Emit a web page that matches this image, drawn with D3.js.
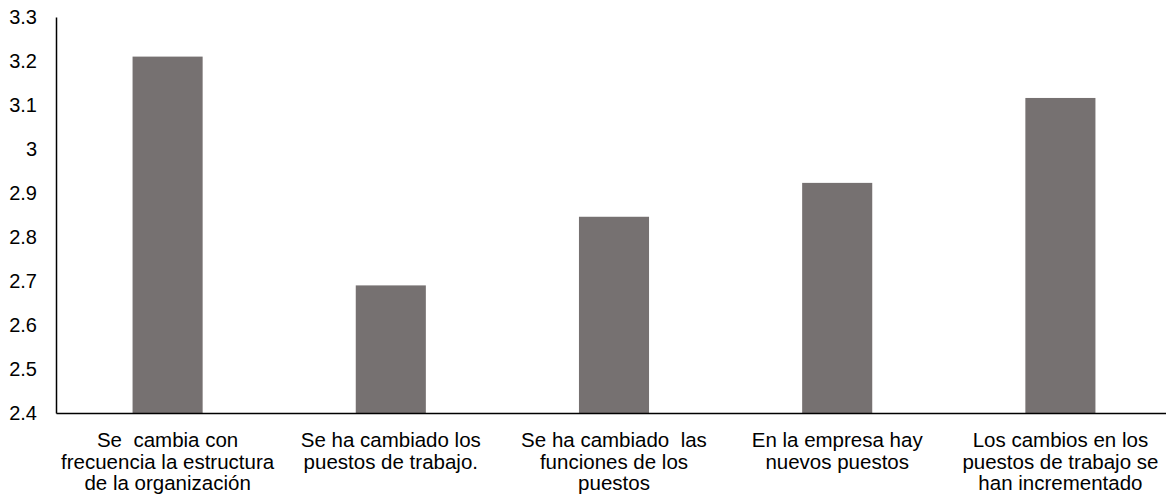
<!DOCTYPE html>
<html>
<head>
<meta charset="utf-8">
<script src="https://cdn.jsdelivr.net/npm/d3@7"></script>
<style>
html,body{margin:0;padding:0;background:#fff;}
svg{display:block;}
text{font-family:"Liberation Sans",Arial,sans-serif;fill:#000;}
</style>
</head>
<body>
<svg id="chart" width="1166" height="501"></svg>
<script>
const categories = [
  ["Se  cambia con", "frecuencia la estructura", "de la organización"],
  ["Se ha cambiado los", "puestos de trabajo."],
  ["Se ha cambiado  las", "funciones de los", "puestos"],
  ["En la empresa hay", "nuevos puestos"],
  ["Los cambios en los", "puestos de trabajo se", "han incrementado"]
];
const values = [3.21, 2.69, 2.846, 2.923, 3.116];
const yTicks = [2.4, 2.5, 2.6, 2.7, 2.8, 2.9, 3.0, 3.1, 3.2, 3.3];
const yTickLabels = ["2.4", "2.5", "2.6", "2.7", "2.8", "2.9", "3", "3.1", "3.2", "3.3"];

const svg = d3.select("#chart");
const mLeft = 56, mRight = 1172, mTop = 17, mBottom = 413;

const x = d3.scaleBand().domain(d3.range(categories.length)).range([mLeft, mRight]).padding(0);
const y = d3.scaleLinear().domain([2.4, 3.3]).range([mBottom, mTop]);
const barW = x.bandwidth() * 0.314;

svg.append("g").selectAll("rect").data(values).join("rect")
  .attr("x", (d, i) => x(i) + x.bandwidth() / 2 - barW / 2)
  .attr("y", d => y(d))
  .attr("width", barW)
  .attr("height", d => y(2.4) - y(d))
  .attr("fill", "#767171");

// y axis
const yAxis = d3.axisLeft(y).tickValues(yTicks).tickSize(0).tickPadding(19)
  .tickFormat((d, i) => yTickLabels[i]);
const gy = svg.append("g").attr("transform", `translate(${mLeft},0)`).call(yAxis);
gy.select(".domain").attr("stroke", "#000").attr("stroke-width", 1.5);
gy.selectAll("text").style("font-size", "20px").attr("font-family", "Liberation Sans, Arial, sans-serif").attr("fill", "#000");

// x axis
const gx = svg.append("g").attr("transform", `translate(0,${mBottom})`)
  .call(d3.axisBottom(x).tickSize(0).tickFormat(""));
gx.select(".domain").attr("stroke", "#000").attr("stroke-width", 1.5);

// category labels
const lab = svg.append("g").selectAll("text").data(categories).join("text")
  .attr("x", (d, i) => x(i) + x.bandwidth() / 2)
  .attr("y", 447)
  .attr("text-anchor", "middle")
  .style("font-size", "20.5px");
lab.each(function(lines) {
  d3.select(this).selectAll("tspan").data(lines).join("tspan")
    .attr("x", d3.select(this).attr("x"))
    .attr("dy", (d, j) => j === 0 ? 0 : 21.7)
    .style("white-space", "pre")
    .text(d => d);
});
</script>
</body>
</html>
